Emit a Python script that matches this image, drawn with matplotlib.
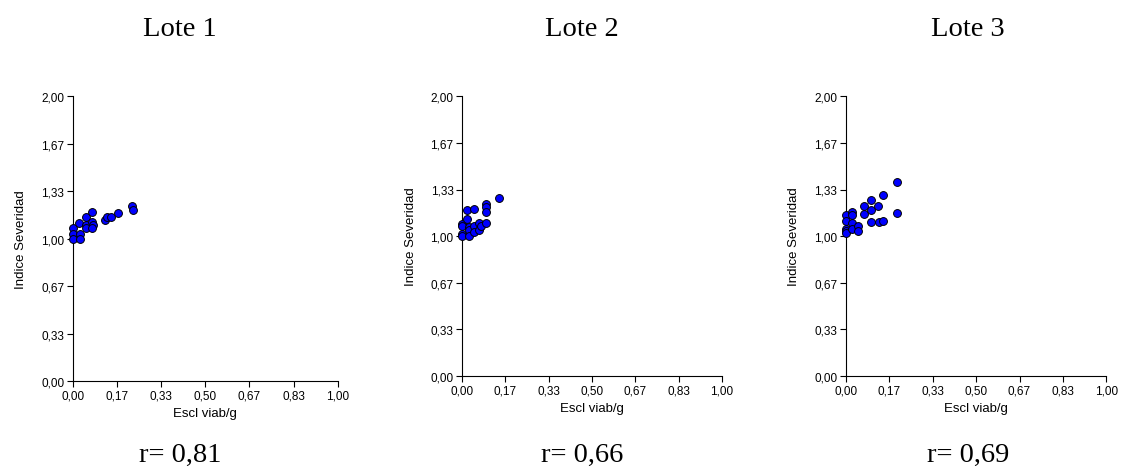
import numpy as np
import matplotlib
matplotlib.use("Agg")
import matplotlib.pyplot as plt

# ===== datos =====
lotes = ["Lote 1", "Lote 2", "Lote 3"]
r_vals = ["0,81", "0,66", "0,69"]

x1 = [0.0, 0.0, 0.0, 0.023, 0.027, 0.027, 0.049, 0.049, 0.049, 0.072, 0.072,
      0.075, 0.072, 0.123, 0.128, 0.146, 0.170, 0.223, 0.229]
y1 = [1.076, 1.034, 0.999, 1.111, 1.034, 0.999, 1.151, 1.097, 1.074, 1.190, 1.120,
      1.097, 1.074, 1.134, 1.153, 1.153, 1.183, 1.232, 1.200]

x2 = [0.0, 0.0, 0.0, 0.0, 0.021, 0.021, 0.026, 0.026, 0.026, 0.046, 0.046,
      0.046, 0.067, 0.067, 0.072, 0.094, 0.094, 0.094, 0.094, 0.142]
y2 = [1.084, 1.069, 1.014, 0.998, 1.186, 1.120, 1.062, 1.045, 0.998, 1.193, 1.072,
      1.029, 1.093, 1.045, 1.069, 1.231, 1.208, 1.174, 1.093, 1.272]

x3 = [0.0, 0.0, 0.0, 0.0, 0.0, 0.023, 0.023, 0.023, 0.025, 0.048, 0.048,
      0.070, 0.070, 0.097, 0.097, 0.097, 0.123, 0.127, 0.144, 0.144, 0.197, 0.197]
y3 = [1.150, 1.110, 1.052, 1.036, 1.021, 1.174, 1.150, 1.093, 1.052, 1.072, 1.034,
      1.215, 1.158, 1.256, 1.184, 1.100, 1.215, 1.100, 1.291, 1.110, 1.387, 1.167]

xticks = [0, 1/6, 2/6, 3/6, 4/6, 5/6, 1]
xtick_labels = ["0,00", "0,17", "0,33", "0,50", "0,67", "0,83", "1,00"]
yticks = [0, 1/3, 2/3, 1, 4/3, 5/3, 2]
ytick_labels = ["0,00", "0,33", "0,67", "1,00", "1,33", "1,67", "2,00"]

W, H = 1122, 477
# [left, bottom, width, height] en pixeles
boxes = [(72.7, 382.3, 265, 285), (462, 376.7, 260, 279.3), (845.7, 376.7, 260.7, 279.3)]
title_x = [180, 582, 968]

plt.rcParams['font.family'] = ['Liberation Sans', 'DejaVu Sans']
fig = plt.figure(figsize=(W / 100, H / 100), dpi=100)

for i, (xs, ys) in enumerate([(x1, y1), (x2, y2), (x3, y3)]):
    l, b, w, h = boxes[i]
    ax = fig.add_axes([l / W, 1 - b / H, w / W, h / H])
    ax.scatter(xs, ys, s=32, c="#0000FF", edgecolors="black", linewidths=0.7,
               clip_on=False, zorder=3)
    ax.set_xlim(0, 1)
    ax.set_ylim(0, 2)
    ax.spines["top"].set_visible(False)
    ax.spines["right"].set_visible(False)
    ax.set_xticks(xticks)
    ax.set_xticklabels(xtick_labels)
    ax.set_yticks(yticks)
    ax.set_yticklabels(ytick_labels)
    ax.tick_params(direction="out", length=4, width=0.8, labelsize=8.5, pad=2)
    ax.set_xlabel("Escl viab/g", fontsize=9.5, labelpad=4)
    ax.set_ylabel("Indice Severidad", fontsize=9.5, labelpad=10)

    fig.text(title_x[i] / W, 1 - 30 / H, lotes[i], ha="center", va="center",
             fontsize=20.5, family="Liberation Serif")
    fig.text(title_x[i] / W, 1 - 455 / H, "r= " + r_vals[i], ha="center", va="center",
             fontsize=20.5, family="Liberation Serif")

fig.savefig("out.png", dpi=100)
